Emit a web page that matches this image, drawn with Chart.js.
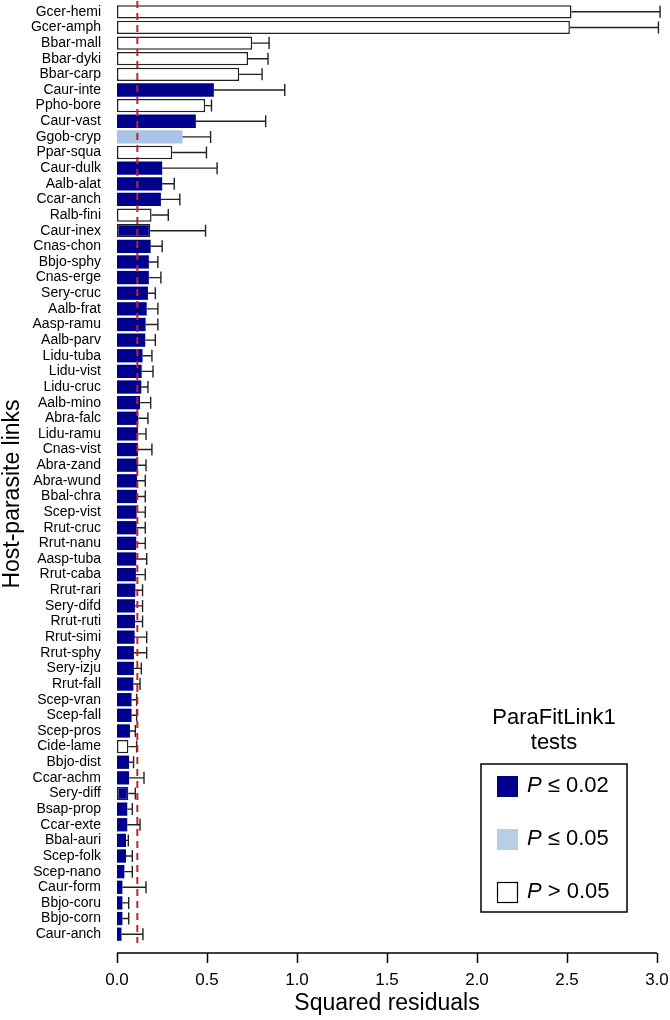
<!DOCTYPE html>
<html>
<head>
<meta charset="utf-8">
<script src="https://cdn.jsdelivr.net/npm/chart.js@4"></script>
<style>
  body { margin: 0; background: #fff; }
  canvas { display: block; }
</style>
</head>
<body>
<canvas id="grafico" width="670" height="1020"></canvas>
<script>
// host-parasite links, top to bottom
var links = ['Gcer-hemi', 'Gcer-amph', 'Bbar-mall', 'Bbar-dyki', 'Bbar-carp', 'Caur-inte', 'Ppho-bore', 'Caur-vast',
    'Ggob-cryp', 'Ppar-squa', 'Caur-dulk', 'Aalb-alat', 'Ccar-anch', 'Ralb-fini', 'Caur-inex', 'Cnas-chon',
    'Bbjo-sphy', 'Cnas-erge', 'Sery-cruc', 'Aalb-frat', 'Aasp-ramu', 'Aalb-parv', 'Lidu-tuba', 'Lidu-vist',
    'Lidu-cruc', 'Aalb-mino', 'Abra-falc', 'Lidu-ramu', 'Cnas-vist', 'Abra-zand', 'Abra-wund', 'Bbal-chra',
    'Scep-vist', 'Rrut-cruc', 'Rrut-nanu', 'Aasp-tuba', 'Rrut-caba', 'Rrut-rari', 'Sery-difd', 'Rrut-ruti',
    'Rrut-simi', 'Rrut-sphy', 'Sery-izju', 'Rrut-fall', 'Scep-vran', 'Scep-fall', 'Scep-pros', 'Cide-lame',
    'Bbjo-dist', 'Ccar-achm', 'Sery-diff', 'Bsap-prop', 'Ccar-exte', 'Bbal-auri', 'Scep-folk', 'Scep-nano',
    'Caur-form', 'Bbjo-coru', 'Bbjo-corn', 'Caur-anch'];

// squared residuals (bar) and upper end of the error bar
var residuals = [2.525, 2.516, 0.751, 0.728, 0.679, 0.538, 0.490, 0.438,
    0.364, 0.307, 0.251, 0.251, 0.244, 0.192, 0.185, 0.187,
    0.177, 0.177, 0.172, 0.165, 0.159, 0.157, 0.142, 0.137,
    0.135, 0.128, 0.118, 0.116, 0.116, 0.115, 0.111, 0.111,
    0.109, 0.109, 0.107, 0.107, 0.105, 0.102, 0.100, 0.100,
    0.098, 0.094, 0.094, 0.091, 0.081, 0.081, 0.072, 0.063,
    0.067, 0.067, 0.063, 0.057, 0.057, 0.050, 0.050, 0.041,
    0.030, 0.030, 0.030, 0.025];
var upper = [3.017, 3.008, 0.845, 0.839, 0.806, 0.932, 0.525, 0.826,
    0.520, 0.497, 0.556, 0.318, 0.349, 0.285, 0.492, 0.251,
    0.227, 0.244, 0.213, 0.227, 0.227, 0.213, 0.194, 0.200,
    0.172, 0.187, 0.172, 0.161, 0.194, 0.161, 0.157, 0.157,
    0.157, 0.157, 0.157, 0.165, 0.157, 0.142, 0.142, 0.142,
    0.165, 0.165, 0.135, 0.128, 0.109, 0.109, 0.102, 0.109,
    0.092, 0.150, 0.102, 0.085, 0.128, 0.063, 0.085, 0.085,
    0.161, 0.065, 0.065, 0.144];

// ParaFitLink1 test class: 'a' P<=0.02, 'b' P<=0.05, 'n' P>0.05
var pclass = ['n', 'n', 'n', 'n', 'n', 'a', 'n', 'a',
    'b', 'n', 'a', 'a', 'a', 'n', 'a', 'a',
    'a', 'a', 'a', 'a', 'a', 'a', 'a', 'a',
    'a', 'a', 'a', 'a', 'a', 'a', 'a', 'a',
    'a', 'a', 'a', 'a', 'a', 'a', 'a', 'a',
    'a', 'a', 'a', 'a', 'a', 'a', 'a', 'n',
    'a', 'a', 'a', 'a', 'a', 'a', 'a', 'a',
    'a', 'a', 'a', 'a'];
var outlined = ['Caur-inex', 'Sery-diff'];  // dark bars drawn with a black frame

var xTicks = [0, 0.5, 1, 1.5, 2, 2.5, 3];
var cutoff = 0.113;  // red dashed line

var legendItems = ['P ≤ 0.02', 'P ≤ 0.05', 'P > 0.05'];
var classColors = { a: '#00008f', b: '#a8c4e6', n: '#ffffff' };
var legendColors = ['#00008f', '#b8cde6', '#ffffff'];

var FONT = "'Liberation Sans', Arial, sans-serif";

var fills = pclass.map(function(c) { return classColors[c]; });
var borders = pclass.map(function(c, i) {
    if (c === 'n' || outlined.indexOf(links[i]) !== -1) return '#222';
    return classColors[c];
});
var borderW = pclass.map(function(c, i) {
    return (c === 'n' || outlined.indexOf(links[i]) !== -1) ? 1.5 : 0;
});

var extras = {
    id: 'extras',
    afterDatasetsDraw: function(chart) {
        var ctx = chart.ctx;
        var x = chart.scales.x, y = chart.scales.y;
        var area = chart.chartArea;
        ctx.save();
        // error bars
        ctx.strokeStyle = '#222';
        ctx.lineWidth = 1.4;
        for (var i = 0; i < links.length; i++) {
            var yy = y.getPixelForValue(i);
            var x0 = x.getPixelForValue(residuals[i]);
            var x1 = x.getPixelForValue(upper[i]);
            ctx.beginPath();
            ctx.moveTo(x0, yy);
            ctx.lineTo(x1, yy);
            ctx.moveTo(x1, yy - 6);
            ctx.lineTo(x1, yy + 6);
            ctx.stroke();
        }
        // cutoff line
        var xc = x.getPixelForValue(cutoff);
        ctx.strokeStyle = '#cc1f1f';
        ctx.lineWidth = 2;
        ctx.setLineDash([7, 5]);
        ctx.beginPath();
        ctx.moveTo(xc, area.top - 3);
        ctx.lineTo(xc, area.bottom + 1);
        ctx.stroke();
        ctx.setLineDash([]);
        // detached x axis
        var ya = area.bottom + 11;
        ctx.strokeStyle = '#000';
        ctx.lineWidth = 1.5;
        ctx.beginPath();
        ctx.moveTo(x.getPixelForValue(xTicks[0]), ya);
        ctx.lineTo(x.getPixelForValue(xTicks[xTicks.length - 1]), ya);
        xTicks.forEach(function(t) {
            var xt = Math.round(x.getPixelForValue(t)) + 0.5;
            ctx.moveTo(xt, ya);
            ctx.lineTo(xt, ya + 10);
        });
        ctx.stroke();
        // axis titles
        ctx.fillStyle = '#000';
        ctx.font = '23px ' + FONT;
        ctx.textAlign = 'center';
        ctx.textBaseline = 'middle';
        ctx.fillText('Squared residuals', (x.getPixelForValue(0) + x.getPixelForValue(3)) / 2, 1004);
        ctx.save();
        ctx.translate(13, 494);
        ctx.rotate(-Math.PI / 2);
        ctx.fillText('Host-parasite links', 0, 0);
        ctx.restore();
        // legend
        ctx.font = '22px ' + FONT;
        ctx.fillText('ParaFitLink1', 554, 718);
        ctx.fillText('tests', 554, 743);
        ctx.lineWidth = 1.5;
        ctx.strokeRect(481, 764, 146, 148);
        ctx.textAlign = 'left';
        for (var k = 0; k < legendItems.length; k++) {
            var cy = 786 + k * 53;
            ctx.fillStyle = legendColors[k];
            ctx.fillRect(497, cy - 10, 21, 21);
            if (k === 2) {
                ctx.lineWidth = 1.2;
                ctx.strokeRect(497.5, cy - 9.5, 20, 20);
            }
            ctx.fillStyle = '#000';
            ctx.font = 'italic 22px ' + FONT;
            ctx.fillText('P', 527, cy);
            var w = ctx.measureText('P').width;
            ctx.font = '22px ' + FONT;
            ctx.fillText(legendItems[k].slice(1), 527 + w, cy);
        }
        ctx.restore();
    }
};

document.addEventListener('DOMContentLoaded', function() {
    var ctx = document.getElementById('grafico').getContext('2d');
    var chart = new Chart(ctx, {
        type: 'bar',
        data: {
            labels: links,
            datasets: [{
                label: 'Squared residuals',
                data: residuals,
                backgroundColor: fills,
                borderColor: borders,
                borderWidth: borderW,
                borderSkipped: false,
                barPercentage: 0.85,
                categoryPercentage: 1.0
            }]
        },
        options: {
            indexAxis: 'y',
            responsive: false,
            animation: false,
            devicePixelRatio: 1,
            layout: { padding: { top: 4, right: 13, left: 0, bottom: 0 } },
            plugins: {
                legend: { display: false },
                tooltip: { enabled: false }
            },
            scales: {
                y: {
                    grid: { display: false, drawTicks: false },
                    border: { display: false },
                    ticks: {
                        autoSkip: false,
                        color: '#000',
                        padding: 16,
                        font: { family: FONT, size: 14 }
                    },
                    afterFit: function(s) {
                        s.width = 117;
                        s.paddingTop = 0;
                        s.paddingBottom = 0;
                    }
                },
                x: {
                    min: 0,
                    max: 3,
                    grid: { display: false, drawTicks: false },
                    border: { display: false },
                    afterBuildTicks: function(s) {
                        s.ticks = xTicks.map(function(v) { return { value: v }; });
                    },
                    ticks: {
                        color: '#000',
                        padding: 28,
                        maxRotation: 0,
                        font: { family: FONT, size: 17 },
                        callback: function(value) { return Number(value).toFixed(1); }
                    },
                    afterFit: function(s) {
                        s.height = 78;
                        s.paddingLeft = 0;
                        s.paddingRight = 0;
                    }
                }
            }
        },
        plugins: [extras]
    });
});
</script>
</body>
</html>
